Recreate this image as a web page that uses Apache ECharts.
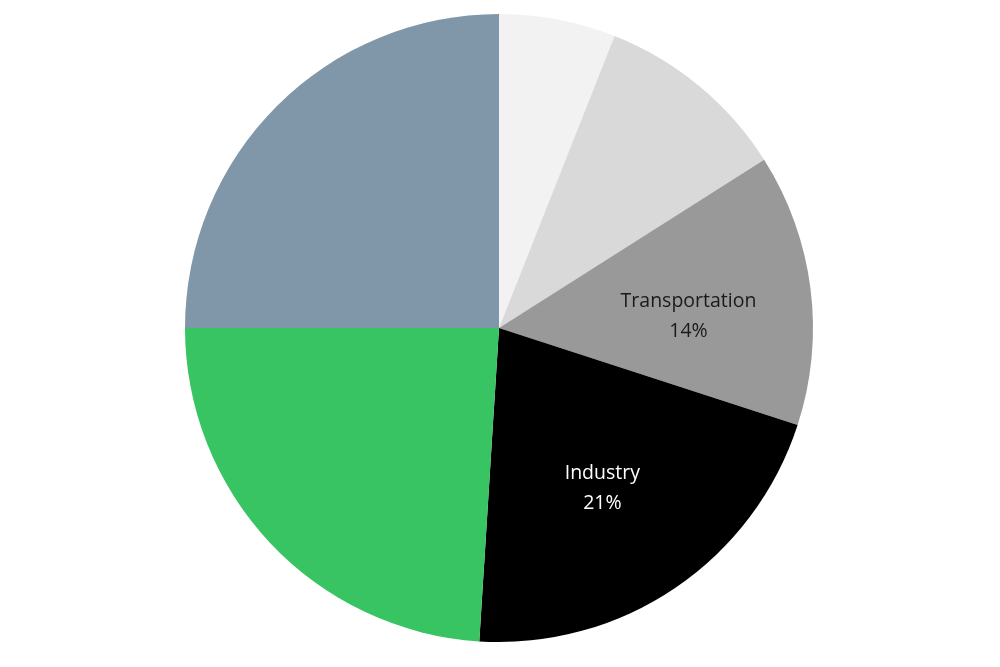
<!DOCTYPE html>
<html>
<head>
<meta charset="utf-8">
<script src="https://cdn.jsdelivr.net/npm/echarts@6/dist/echarts.min.js"></script>
<style>html,body{margin:0;padding:0;background:#fff;}#chart{width:1000px;height:667px;}</style>
</head>
<body>
<div id="chart"></div>
<script>
const categories = ['Buildings', 'Other Energy', 'Transportation', 'Industry', 'Agriculture, Forestry and Other Land Use', 'Electricity and Heat Production'];
const values = [6, 10, 14, 21, 24, 25];
const colors = ['#f2f2f2', '#d9d9d9', '#999999', '#000000', '#38c463', '#8097aa'];
const labeled = ['Transportation', 'Industry'];
const labelStyles = {
  'Transportation': {color: '#1a1a1a', offset: [0, 12]},
  'Industry': {color: '#ffffff', offset: [-4, 2]}
};

const chart = echarts.init(document.getElementById('chart'), null, {renderer: 'canvas'});
const baseData = categories.map((c, i) => ({name: c, value: values[i], itemStyle: {color: colors[i]}}));
const labelData = categories.map((c, i) => ({
  name: c, value: values[i],
  itemStyle: {color: 'rgba(0,0,0,0)'},
  label: Object.assign({show: labeled.includes(c)}, labelStyles[c] || {})
}));
chart.setOption({
  animation: false,
  series: [
    {
      type: 'pie', center: [499, 328], radius: [0, 314], startAngle: 90, clockwise: true,
      silent: true, label: {show: false}, labelLine: {show: false},
      itemStyle: {borderWidth: 0},
      data: baseData
    },
    {
      type: 'pie', center: [499, 328], radius: [62, 314], startAngle: 90, clockwise: true,
      silent: true, labelLine: {show: false},
      label: {position: 'inside', formatter: p => p.name + '\n' + Math.round(p.percent) + '%',
              fontFamily: 'Open Sans', fontSize: 19.5, lineHeight: 30, align: 'center'},
      itemStyle: {borderWidth: 0},
      data: labelData
    }
  ]
});
</script>
</body>
</html>
